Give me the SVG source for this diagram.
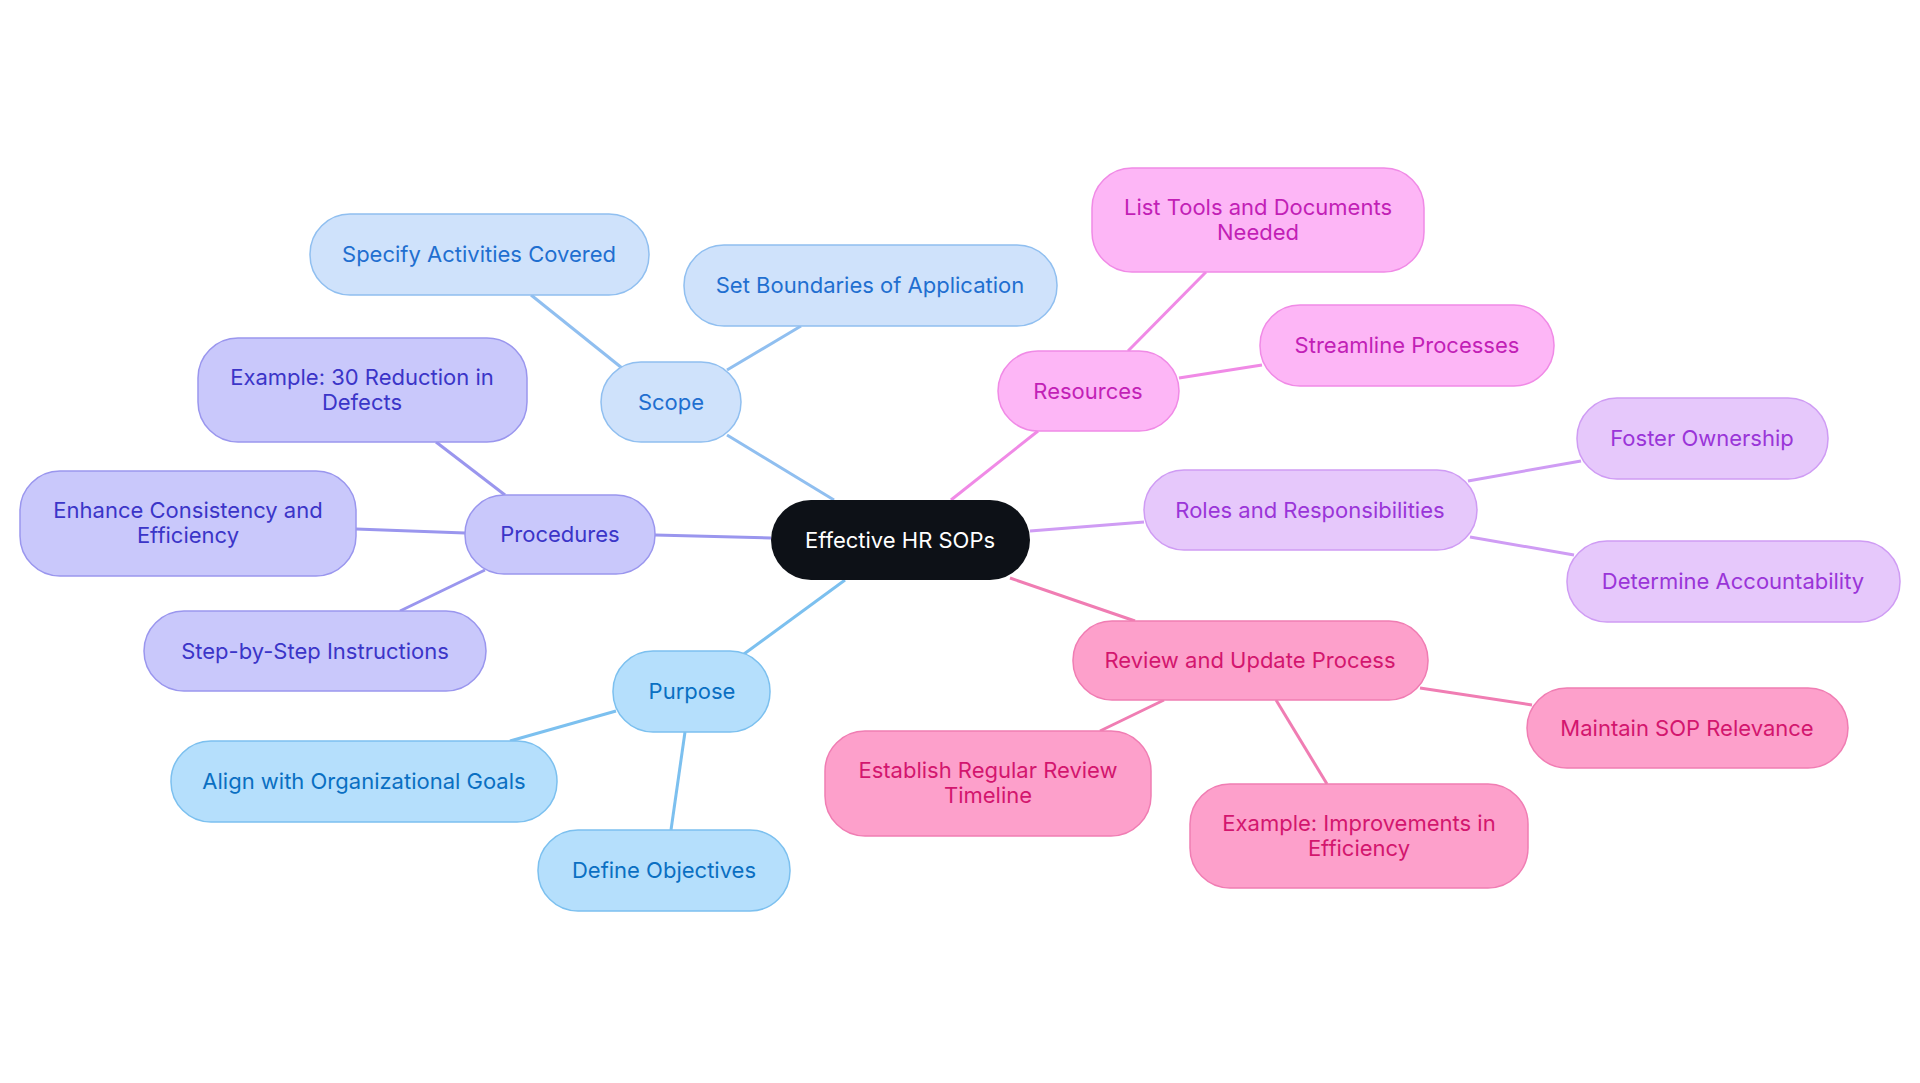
<svg xmlns="http://www.w3.org/2000/svg" width="1920" height="1083" viewBox="0 0 1920 1083">
<style>
text{font-family:Inter,"Noto Sans",sans-serif;font-size:22px;text-anchor:middle;dominant-baseline:central}
.c line{stroke-width:3;fill:none}
.sc rect{fill:#cfe2fb;stroke:#90bff0;stroke-width:1.5}.sc text{fill:#1f6fd0}
.pr rect{fill:#c9c8fb;stroke:#9a96ee;stroke-width:1.5}.pr text{fill:#3b35c8}
.pu rect{fill:#b5dffc;stroke:#7cc0ef;stroke-width:1.5}.pu text{fill:#0a6fc2}
.re rect{fill:#fdb6f6;stroke:#f08ae6;stroke-width:1.5}.re text{fill:#c21fb6}
.ro rect{fill:#e6c8fb;stroke:#cf9cf4;stroke-width:1.5}.ro text{fill:#9a35d8}
.rv rect{fill:#fda0cb;stroke:#f07db3;stroke-width:1.5}.rv text{fill:#d3166e}
</style>
<rect width="1920" height="1083" fill="#fff"/>
<g id="connectors" class="c">
<line x1="834" y1="500" x2="727" y2="435" stroke="#90bff0"/>
<line x1="622" y1="368" x2="531" y2="295" stroke="#90bff0"/>
<line x1="727" y1="370" x2="801" y2="326" stroke="#90bff0"/>
<line x1="771" y1="538" x2="655" y2="535" stroke="#9a96ee"/>
<line x1="505" y1="495" x2="436" y2="442" stroke="#9a96ee"/>
<line x1="465" y1="533" x2="356" y2="529" stroke="#9a96ee"/>
<line x1="485" y1="570" x2="400" y2="611" stroke="#9a96ee"/>
<line x1="845" y1="580" x2="744" y2="654" stroke="#7cc0ef"/>
<line x1="616" y1="711" x2="510" y2="741" stroke="#7cc0ef"/>
<line x1="685" y1="732" x2="671" y2="830" stroke="#7cc0ef"/>
<line x1="951" y1="500" x2="1038" y2="431" stroke="#f08ae6"/>
<line x1="1128" y1="351" x2="1206" y2="272" stroke="#f08ae6"/>
<line x1="1179" y1="378" x2="1262" y2="365" stroke="#f08ae6"/>
<line x1="1030" y1="531" x2="1144" y2="522" stroke="#cf9cf4"/>
<line x1="1468" y1="481" x2="1581" y2="461" stroke="#cf9cf4"/>
<line x1="1470" y1="537" x2="1574" y2="555" stroke="#cf9cf4"/>
<line x1="1010" y1="578" x2="1135" y2="621" stroke="#f07db3"/>
<line x1="1420" y1="688" x2="1532" y2="705" stroke="#f07db3"/>
<line x1="1164" y1="700" x2="1100" y2="731" stroke="#f07db3"/>
<line x1="1276" y1="700" x2="1327" y2="784" stroke="#f07db3"/>
</g>
<g id="center"><rect x="771" y="500" width="259" height="80" rx="40" fill="#0d1117"/><text x="900" y="540" fill="#fff">Effective HR SOPs</text></g>
<g id="scope" class="sc"><rect x="601" y="362" width="140" height="80" rx="40"/><text x="671" y="402">Scope</text></g>
<g id="specify" class="sc"><rect x="310" y="214" width="339" height="81" rx="40"/><text x="479" y="254">Specify Activities Covered</text></g>
<g id="boundaries" class="sc"><rect x="684" y="245" width="373" height="81" rx="40"/><text x="870" y="285">Set Boundaries of Application</text></g>
<g id="procedures" class="pr"><rect x="465" y="495" width="190" height="79" rx="39"/><text x="560" y="534">Procedures</text></g>
<g id="example30" class="pr"><rect x="198" y="338" width="329" height="104" rx="40"/><text x="362" y="377">Example: 30 Reduction in</text><text x="362" y="402">Defects</text></g>
<g id="enhance" class="pr"><rect x="20" y="471" width="336" height="105" rx="40"/><text x="188" y="510">Enhance Consistency and</text><text x="188" y="535">Efficiency</text></g>
<g id="step" class="pr"><rect x="144" y="611" width="342" height="80" rx="40"/><text x="315" y="651">Step-by-Step Instructions</text></g>
<g id="purpose" class="pu"><rect x="613" y="651" width="157" height="81" rx="40"/><text x="692" y="691">Purpose</text></g>
<g id="align" class="pu"><rect x="171" y="741" width="386" height="81" rx="40"/><text x="364" y="781">Align with Organizational Goals</text></g>
<g id="define" class="pu"><rect x="538" y="830" width="252" height="81" rx="40"/><text x="664" y="870">Define Objectives</text></g>
<g id="resources" class="re"><rect x="998" y="351" width="181" height="80" rx="40"/><text x="1088" y="391">Resources</text></g>
<g id="listtools" class="re"><rect x="1092" y="168" width="332" height="104" rx="40"/><text x="1258" y="207">List Tools and Documents</text><text x="1258" y="232">Needed</text></g>
<g id="streamline" class="re"><rect x="1260" y="305" width="294" height="81" rx="40"/><text x="1407" y="345">Streamline Processes</text></g>
<g id="roles" class="ro"><rect x="1144" y="470" width="333" height="80" rx="40"/><text x="1310" y="510">Roles and Responsibilities</text></g>
<g id="foster" class="ro"><rect x="1577" y="398" width="251" height="81" rx="40"/><text x="1702" y="438">Foster Ownership</text></g>
<g id="determine" class="ro"><rect x="1567" y="541" width="333" height="81" rx="40"/><text x="1733" y="581">Determine Accountability</text></g>
<g id="review" class="rv"><rect x="1073" y="621" width="355" height="79" rx="39"/><text x="1250" y="660">Review and Update Process</text></g>
<g id="maintain" class="rv"><rect x="1527" y="688" width="321" height="80" rx="40"/><text x="1687" y="728">Maintain SOP Relevance</text></g>
<g id="establish" class="rv"><rect x="825" y="731" width="326" height="105" rx="40"/><text x="988" y="770">Establish Regular Review</text><text x="988" y="795">Timeline</text></g>
<g id="improvements" class="rv"><rect x="1190" y="784" width="338" height="104" rx="40"/><text x="1359" y="823">Example: Improvements in</text><text x="1359" y="848">Efficiency</text></g>
</svg>
